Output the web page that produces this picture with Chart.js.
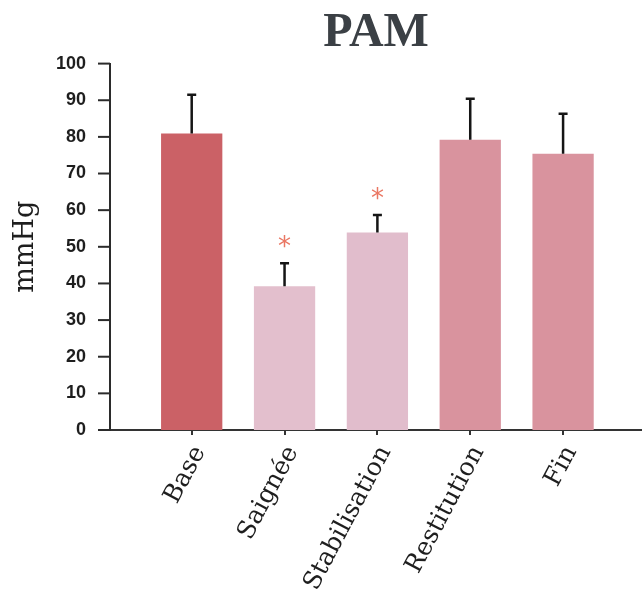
<!DOCTYPE html>
<html>
<head>
<meta charset="utf-8">
<script src="https://cdn.jsdelivr.net/npm/chart.js@4.4.1/dist/chart.umd.min.js"></script>
<style>
  html, body { margin: 0; padding: 0; background: #ffffff; }
  #wrap { width: 642px; height: 611px; position: relative; }
</style>
</head>
<body>
<div id="wrap"><canvas id="chart"></canvas></div>
<script>
// Mean arterial pressure per phase (mmHg), with standard deviations
const categories = ['Base', 'Saignée', 'Stabilisation', 'Restitution', 'Fin'];
const means = [80.9, 39.2, 53.9, 79.2, 75.4];
const sds = [10.6, 6.3, 4.8, 11.2, 10.9];
const significant = [false, true, true, false, false];
const barColors = ['#cb6166', '#e3bfcd', '#e1bdcc', '#d9939e', '#d9939e'];

const points = means.map((v, i) => ({ x: i + 1, y: v }));

// Error bars (upper whisker with cap) and significance asterisks
const errorBarPlugin = {
  id: 'errorBars',
  afterDatasetsDraw(chart) {
    const ctx = chart.ctx;
    const meta = chart.getDatasetMeta(0);
    const y = chart.scales.y;
    ctx.save();
    meta.data.forEach((bar, i) => {
      const x = bar.x;
      const yTop = y.getPixelForValue(means[i]);
      const yErr = y.getPixelForValue(means[i] + sds[i]);
      ctx.strokeStyle = '#151515';
      ctx.lineWidth = 2.5;
      ctx.beginPath();
      ctx.moveTo(x, yTop);
      ctx.lineTo(x, yErr);
      ctx.moveTo(x - 4.5, yErr);
      ctx.lineTo(x + 4.5, yErr);
      ctx.stroke();
      if (significant[i]) {
        ctx.fillStyle = '#ea7763';
        ctx.font = '26px "DejaVu Sans"';
        ctx.textAlign = 'center';
        ctx.textBaseline = 'middle';
        ctx.fillText('*', x, yErr - 21 + 6);
      }
    });
    ctx.restore();
  }
};

// Major (every 10) and minor (every 5) tick marks on the value axis
const yTickMarks = {
  id: 'yTickMarks',
  afterDraw(chart) {
    const ctx = chart.ctx;
    const y = chart.scales.y;
    const left = chart.chartArea.left;
    ctx.save();
    ctx.strokeStyle = '#2b2b2b';
    ctx.lineWidth = 2;
    y.ticks.forEach(t => {
      const py = y.getPixelForValue(t.value);
      const len = t.value % 10 === 0 ? 12 : 7;
      ctx.beginPath();
      ctx.moveTo(left - len, py);
      ctx.lineTo(left, py);
      ctx.stroke();
    });
    // extend the baseline slightly left of the value axis
    const py0 = y.getPixelForValue(0);
    ctx.beginPath();
    ctx.moveTo(left - 6, py0);
    ctx.lineTo(left, py0);
    ctx.stroke();
    ctx.restore();
  }
};

new Chart(document.getElementById('chart'), {
  type: 'bar',
  data: {
    datasets: [{
      data: points,
      backgroundColor: barColors,
      borderWidth: 0,
      barPercentage: 0.66,
      categoryPercentage: 1.0
    }]
  },
  options: {
    responsive: true,
    maintainAspectRatio: false,
    animation: false,
    layout: { padding: { left: 0, right: 0, top: 0, bottom: 0 } },
    plugins: {
      legend: { display: false },
      tooltip: { enabled: false },
      title: {
        display: true,
        text: 'PAM',
        fullSize: false,
        color: '#3b4045',
        font: { family: '"Liberation Serif", "Times New Roman", serif', size: 48, weight: 'bold' },
        padding: { top: 5, bottom: 1 }
      }
    },
    scales: {
      x: {
        type: 'linear',
        min: 0.12,
        max: 5.85,
        offset: false,
        afterBuildTicks(scale) {
          scale.ticks = categories.map((_, i) => ({ value: i + 1 }));
        },
        afterFit(scale) { scale.height = 181; },
        border: { display: true, color: '#333333', width: 2 },
        grid: { display: true, drawOnChartArea: false, drawTicks: true, tickLength: 5, color: '#333333', lineWidth: 2, offset: false },
        ticks: {
          autoSkip: false,
          minRotation: 62,
          maxRotation: 62,
          padding: 6,
          labelOffset: 8,
          color: '#1e1e1e',
          font: { family: '"DejaVu Serif", serif', size: 25 },
          callback: (v) => categories[Math.round(v) - 1] || ''
        }
      },
      y: {
        min: 0,
        max: 100,
        afterFit(scale) { scale.width = 110; },
        border: { display: true, color: '#2b2b2b', width: 2 },
        grid: { display: false },
        ticks: {
          stepSize: 5,
          padding: 16,
          color: '#1e1e1e',
          font: { family: '"Liberation Sans", Arial, sans-serif', size: 18, weight: 'bold' },
          callback: (v) => (v % 10 === 0 ? v : '')
        },
        title: {
          display: true,
          text: 'mmHg',
          color: '#1e1e1e',
          font: { family: '"DejaVu Serif", serif', size: 27 },
          padding: { top: 10, bottom: 0 }
        }
      }
    }
  },
  plugins: [errorBarPlugin, yTickMarks]
});
</script>
</body>
</html>
